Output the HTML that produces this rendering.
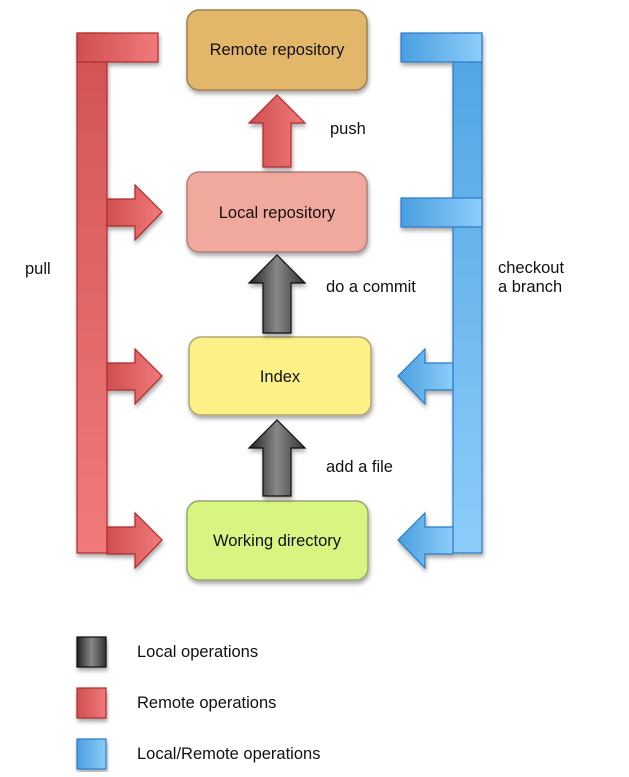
<!DOCTYPE html>
<html><head><style>
body{margin:0;background:#fff;width:629px;height:772px;overflow:hidden}
svg text{font-family:"Liberation Sans",sans-serif;font-size:16.5px;fill:#111}
</style></head><body>
<svg width="629" height="772" xmlns="http://www.w3.org/2000/svg">
<defs>
<linearGradient id="red" x1="0" x2="1"><stop offset="0" stop-color="#cf4f4f"/><stop offset="1" stop-color="#f07a7a"/></linearGradient>
<linearGradient id="redv" x1="0" y1="0" x2="0" y2="1"><stop offset="0" stop-color="#d15353"/><stop offset="1" stop-color="#f07a7a"/></linearGradient>
<linearGradient id="blue" x1="0" y1="0" x2="0" y2="1"><stop offset="0" stop-color="#4fa3e3"/><stop offset="1" stop-color="#8ccdfa"/></linearGradient>
<linearGradient id="blueh" x1="0" x2="1"><stop offset="0" stop-color="#4a9fe0"/><stop offset="1" stop-color="#8ccdfa"/></linearGradient>
<linearGradient id="gray" x1="0" x2="1"><stop offset="0" stop-color="#222"/><stop offset="0.5" stop-color="#888"/><stop offset="1" stop-color="#333"/></linearGradient>
<filter id="sh"><feDropShadow dx="1" dy="3" stdDeviation="2" flood-opacity="0.35"/></filter>
</defs>
<g filter="url(#sh)" stroke-width="1.5">
<rect x="187" y="10" width="180" height="80" rx="12" fill="#e3b76a" stroke="#a08050"/>
<rect x="187" y="172" width="180" height="80" rx="12" fill="#f2a99d" stroke="#b08080"/>
<rect x="189" y="337" width="182" height="78" rx="12" fill="#fdf087" stroke="#b0a870"/>
<rect x="187" y="501" width="181" height="79" rx="12" fill="#d8f582" stroke="#98a870"/>
</g>
<text x="277" y="55" text-anchor="middle">Remote repository</text>
<text x="277" y="218" text-anchor="middle">Local repository</text>
<text x="280" y="382" text-anchor="middle">Index</text>
<text x="277" y="546" text-anchor="middle">Working directory</text>
<g filter="url(#sh)" stroke="#b02a2a" stroke-width="1.2">
<rect x="77" y="33" width="30" height="520" fill="url(#redv)"/>
<rect x="77" y="33" width="81" height="29" fill="url(#red)"/>
<path d="M107 199H135V185L162 212L135 240V226H107Z" fill="url(#red)"/>
<path d="M107 363H135V349L162 376L135 404V390H107Z" fill="url(#red)"/>
<path d="M107 527H135V513L162 540L135 568V554H107Z" fill="url(#red)"/>
<path d="M263 167V123H249L277 95L305 123H291V167Z" fill="url(#red)"/>
</g>
<g filter="url(#sh)" stroke="#2a7ac8" stroke-width="1.2">
<rect x="453" y="33" width="29" height="520" fill="url(#blue)"/>
<rect x="401" y="33" width="81" height="29" fill="url(#blueh)"/>
<rect x="401" y="198" width="81" height="29" fill="url(#blueh)"/>
<path d="M453 363H425V349L398 376L425 404V390H453Z" fill="url(#blueh)"/>
<path d="M453 527H425V513L398 540L425 568V554H453Z" fill="url(#blueh)"/>
</g>
<g filter="url(#sh)" stroke="#111" stroke-width="1.2" fill="url(#gray)">
<path d="M263 333V283H249L277 255L305 283H291V333Z"/>
<path d="M263 496V448H249L277 420L305 448H291V496Z"/>
</g>
<text x="330" y="134">push</text>
<text x="326" y="292">do a commit</text>
<text x="326" y="472">add a file</text>
<text x="25" y="274">pull</text>
<text x="498" y="273">checkout</text>
<text x="498" y="292">a branch</text>
<g filter="url(#sh)" stroke-width="1.2">
<rect x="77" y="637" width="29" height="30" fill="url(#gray)" stroke="#111"/>
<rect x="77" y="688" width="29" height="30" fill="url(#red)" stroke="#b02a2a"/>
<rect x="77" y="739" width="29" height="30" fill="url(#blueh)" stroke="#2a7ac8"/>
</g>
<text x="137" y="657">Local operations</text>
<text x="137" y="708">Remote operations</text>
<text x="137" y="759">Local/Remote operations</text>
</svg>
</body></html>
